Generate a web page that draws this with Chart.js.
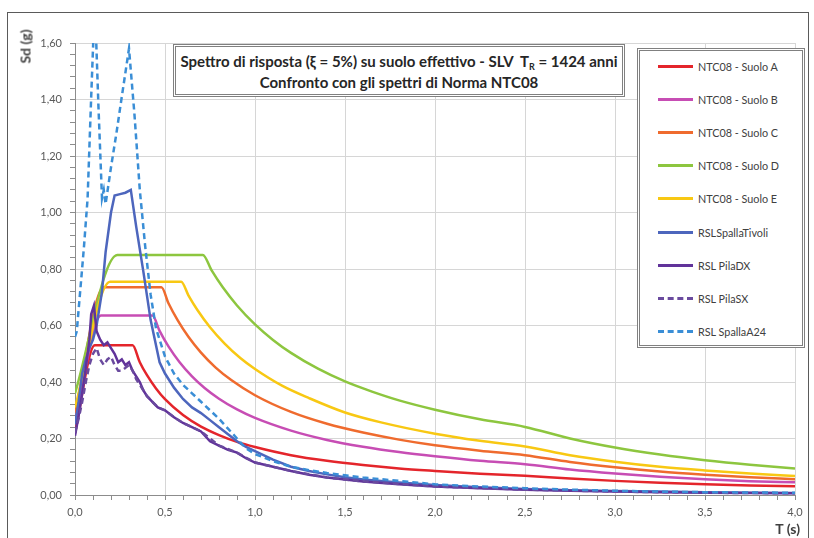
<!DOCTYPE html>
<html>
<head>
<meta charset="utf-8">
<script src="https://cdn.jsdelivr.net/npm/chart.js@4.4.1/dist/chart.umd.min.js"></script>
<style>
    body { margin: 0; width: 814px; height: 538px; overflow: hidden; background: #fff; position: relative; font-family: Lato, "Liberation Sans", sans-serif; }
    #frame { position: absolute; left: 7px; top: 12px; width: 802px; height: 540px; border: 1px solid #5a5a5a; box-sizing: border-box; }
    #c { position: absolute; left: 0; top: 0; }
    #ylab { position: absolute; left: 0px; top: 38px; width: 50px; text-align: center; transform: rotate(-90deg); font-weight: bold; font-size: 14px; color: #404040; }
    #xlab { position: absolute; right: 14px; top: 520px; font-weight: bold; font-size: 14px; color: #404040; }
    #titleBox { position: absolute; left: 173px; top: 44px; width: 452px; height: 53px; box-sizing: border-box; border: 3px double #808080; background: #fff; text-align: center; font-weight: bold; font-size: 15px; line-height: 21px; padding-top: 4px; color: #262626; }
    #titleBox sub { font-size: 9px; line-height: 0; vertical-align: -3px; }
    #legend { position: absolute; left: 637px; top: 48px; width: 168px; height: 300px; box-sizing: border-box; border: 3px double #808080; background: #fff; }
    .item { position: absolute; left: 18px; height: 14px; display: flex; align-items: center; font-size: 10.8px; color: #404040; }
    .swatch { width: 35px; height: 0; margin-right: 5px; }
</style>
</head>
<body>
<div id="frame"></div>
<canvas id="c" width="814" height="538"></canvas>
<div id="ylab">Sd (g)</div>
<div id="xlab">T (s)</div>
<div id="titleBox">Spettro di risposta (ξ = 5%) su suolo effettivo - SLV&nbsp; T<sub>R</sub> = 1424 anni<br>Confronto con gli spettri di Norma NTC08</div>
<div id="legend"></div>

<script>
// spettri di norma NTC08 (periodo T [s], Sd [g])
const tA = [0, 0.11, 0.32, 0.36, 0.40, 0.45, 0.50, 0.60, 0.70, 0.80, 0.90, 1.00, 1.20, 1.40, 1.60, 1.80, 2.00, 2.25, 2.50, 2.75, 3.00, 3.25, 3.50, 3.75, 4.00];
const sdA = [0.22, 0.53, 0.53, 0.47, 0.424, 0.377, 0.339, 0.283, 0.242, 0.212, 0.188, 0.170, 0.141, 0.121, 0.106, 0.094, 0.085, 0.075, 0.068, 0.058, 0.050, 0.043, 0.038, 0.034, 0.031];

const tB = [0, 0.145, 0.43, 0.47, 0.52, 0.58, 0.65, 0.72, 0.80, 0.90, 1.00, 1.20, 1.40, 1.60, 1.80, 2.00, 2.25, 2.50, 2.75, 3.00, 3.25, 3.50, 3.75, 4.00];
const sdB = [0.26, 0.635, 0.635, 0.581, 0.525, 0.471, 0.420, 0.379, 0.341, 0.303, 0.273, 0.228, 0.195, 0.171, 0.152, 0.137, 0.121, 0.109, 0.090, 0.076, 0.065, 0.056, 0.049, 0.045];

const tC = [0, 0.16, 0.48, 0.52, 0.57, 0.63, 0.70, 0.78, 0.87, 1.00, 1.20, 1.40, 1.60, 1.80, 2.00, 2.25, 2.50, 2.75, 3.00, 3.25, 3.50, 3.75, 4.00];
const sdC = [0.29, 0.735, 0.735, 0.678, 0.619, 0.560, 0.504, 0.452, 0.406, 0.353, 0.294, 0.252, 0.221, 0.196, 0.176, 0.157, 0.141, 0.117, 0.098, 0.083, 0.072, 0.063, 0.056];

const tD = [0, 0.235, 0.71, 0.76, 0.82, 0.90, 1.00, 1.10, 1.20, 1.35, 1.50, 1.65, 1.80, 2.00, 2.25, 2.50, 2.75, 3.00, 3.25, 3.50, 3.75, 4.00];
const sdD = [0.36, 0.85, 0.85, 0.794, 0.736, 0.671, 0.604, 0.549, 0.503, 0.447, 0.402, 0.366, 0.335, 0.302, 0.268, 0.241, 0.200, 0.168, 0.143, 0.123, 0.107, 0.094];

const tE = [0, 0.195, 0.59, 0.63, 0.68, 0.75, 0.83, 0.92, 1.00, 1.15, 1.30, 1.50, 1.70, 2.00, 2.25, 2.50, 2.75, 3.00, 3.25, 3.50, 3.75, 4.00];
const sdE = [0.31, 0.755, 0.755, 0.707, 0.655, 0.594, 0.537, 0.484, 0.446, 0.387, 0.343, 0.292, 0.257, 0.217, 0.192, 0.172, 0.141, 0.118, 0.100, 0.087, 0.076, 0.067];

// spettri RSL
const tTiv = [0, 0.02, 0.04, 0.06, 0.08, 0.10, 0.12, 0.15, 0.17, 0.20, 0.22, 0.25, 0.28, 0.31, 0.34, 0.38, 0.42, 0.44, 0.47, 0.50, 0.55, 0.60, 0.65, 0.70, 0.75, 0.80, 0.85, 0.90, 0.95, 1.00, 1.10, 1.20, 1.30, 1.40, 1.50, 1.60, 1.80, 2.00, 2.25, 2.50, 2.75, 3.00, 3.25, 3.50, 3.75, 4.00];
const sdTiv = [0.25, 0.33, 0.43, 0.48, 0.52, 0.55, 0.60, 0.72, 0.86, 1.00, 1.06, 1.065, 1.07, 1.08, 0.95, 0.79, 0.62, 0.56, 0.47, 0.43, 0.38, 0.34, 0.31, 0.29, 0.265, 0.24, 0.215, 0.19, 0.17, 0.155, 0.125, 0.10, 0.085, 0.073, 0.063, 0.055, 0.044, 0.035, 0.027, 0.021, 0.017, 0.014, 0.012, 0.010, 0.008, 0.007];

const tDX = [0, 0.02, 0.04, 0.06, 0.08, 0.09, 0.105, 0.12, 0.14, 0.16, 0.18, 0.20, 0.22, 0.24, 0.26, 0.28, 0.30, 0.32, 0.34, 0.36, 0.38, 0.40, 0.43, 0.46, 0.50, 0.55, 0.60, 0.65, 0.70, 0.75, 0.80, 0.85, 0.90, 0.95, 1.00, 1.10, 1.20, 1.30, 1.40, 1.50, 1.60, 1.80, 2.00, 2.25, 2.50, 2.75, 3.00, 3.25, 3.50, 3.75, 4.00];
const sdDX = [0.21, 0.28, 0.36, 0.45, 0.55, 0.64, 0.67, 0.58, 0.55, 0.53, 0.54, 0.52, 0.50, 0.47, 0.48, 0.46, 0.47, 0.44, 0.42, 0.40, 0.37, 0.35, 0.33, 0.31, 0.30, 0.275, 0.255, 0.24, 0.225, 0.19, 0.175, 0.16, 0.15, 0.13, 0.115, 0.10, 0.085, 0.072, 0.062, 0.055, 0.048, 0.038, 0.030, 0.024, 0.019, 0.015, 0.012, 0.010, 0.008, 0.007, 0.006];

const tSX = [0, 0.02, 0.04, 0.06, 0.08, 0.10, 0.12, 0.14, 0.16, 0.18, 0.20, 0.22, 0.24, 0.26, 0.28, 0.30, 0.32, 0.34, 0.36, 0.38, 0.40, 0.43, 0.46, 0.50, 0.55, 0.60, 0.70, 0.80, 0.90, 1.00, 1.20, 1.40, 1.60, 2.00, 2.50, 3.00, 3.50, 4.00];
const sdSX = [0.22, 0.27, 0.33, 0.40, 0.46, 0.50, 0.52, 0.48, 0.46, 0.48, 0.49, 0.46, 0.44, 0.44, 0.45, 0.46, 0.44, 0.41, 0.39, 0.37, 0.35, 0.33, 0.31, 0.30, 0.275, 0.255, 0.225, 0.175, 0.15, 0.115, 0.085, 0.062, 0.048, 0.030, 0.019, 0.012, 0.008, 0.006];

const tA24 = [0, 0.01, 0.03, 0.05, 0.07, 0.09, 0.11, 0.13, 0.15, 0.16, 0.17, 0.20, 0.23, 0.26, 0.30, 0.33, 0.36, 0.39, 0.42, 0.45, 0.50, 0.55, 0.60, 0.65, 0.70, 0.75, 0.80, 0.85, 0.90, 0.95, 1.00, 1.10, 1.20, 1.30, 1.40, 1.50, 1.60, 1.80, 2.00, 2.25, 2.50, 2.75, 3.00, 3.25, 3.50, 3.75, 4.00];
const sdA24 = [0.56, 0.58, 0.73, 0.88, 1.05, 1.41, 1.75, 1.38, 1.05, 1.08, 1.03, 1.16, 1.28, 1.41, 1.58, 1.35, 1.08, 0.88, 0.71, 0.59, 0.49, 0.43, 0.39, 0.36, 0.33, 0.30, 0.27, 0.235, 0.20, 0.165, 0.145, 0.12, 0.10, 0.088, 0.078, 0.07, 0.062, 0.05, 0.038, 0.030, 0.024, 0.019, 0.015, 0.012, 0.010, 0.009, 0.008];

// serie: etichetta, dati, colore, tratteggio
const series = [
    { label: 'NTC08 - Suolo A', t: tA, sd: sdA, color: '#e4252b', dash: [], smooth: true },
    { label: 'NTC08 - Suolo B', t: tB, sd: sdB, color: '#c74db4', dash: [], smooth: true },
    { label: 'NTC08 - Suolo C', t: tC, sd: sdC, color: '#ef6b2e', dash: [], smooth: true },
    { label: 'NTC08 - Suolo D', t: tD, sd: sdD, color: '#8dc63f', dash: [], smooth: true },
    { label: 'NTC08 - Suolo E', t: tE, sd: sdE, color: '#f8c813', dash: [], smooth: true },
    { label: 'RSLSpallaTivoli', t: tTiv, sd: sdTiv, color: '#4d66bd', dash: [], smooth: false },
    { label: 'RSL PilaDX', t: tDX, sd: sdDX, color: '#61339a', dash: [], smooth: false },
    { label: 'RSL PilaSX', t: tSX, sd: sdSX, color: '#6a4a9e', dash: [6, 4], smooth: false },
    { label: 'RSL SpallaA24', t: tA24, sd: sdA24, color: '#3a8ed6', dash: [6, 4], smooth: false }
];

const comma = (v, d) => v.toFixed(d).replace('.', ',');

const datasets = series.map((s, i) => ({
    label: s.label,
    data: s.t.map((t, k) => ({ x: t, y: s.sd[k] })),
    borderColor: s.color,
    borderWidth: 2.5,
    borderDash: s.dash,
    pointRadius: 0,
    fill: false,
    tension: 0,
    cubicInterpolationMode: s.smooth ? 'monotone' : 'default',
    order: series.length - i // le ultime serie sopra
}));

new Chart(document.getElementById('c'), {
    type: 'line',
    data: { datasets: datasets },
    options: {
        responsive: false,
        animation: false,
        layout: { padding: { top: 43, right: 19, bottom: 0, left: 0 } },
        plugins: { legend: { display: false }, tooltip: { enabled: false } },
        scales: {
            x: {
                type: 'linear',
                min: 0,
                max: 4,
                afterFit: s => { s.height = 43; },
                ticks: {
                    stepSize: 0.1,
                    autoSkip: false,
                    maxRotation: 0,
                    padding: 6,
                    color: '#595959',
                    font: { family: 'Lato', size: 11 },
                    callback: v => Math.round(v * 10) % 5 === 0 ? comma(v, 1) : ''
                },
                grid: {
                    color: ctx => Math.round(ctx.tick.value * 10) % 5 === 0 ? '#d6d6d6' : 'rgba(0,0,0,0)',
                    tickColor: '#8c8c8c',
                    tickLength: 5
                },
                border: { color: '#8c8c8c' }
            },
            y: {
                min: 0,
                max: 1.6,
                afterFit: s => { s.width = 75; },
                ticks: {
                    stepSize: 0.04,
                    autoSkip: false,
                    padding: 8,
                    color: '#595959',
                    font: { family: 'Lato', size: 11 },
                    callback: v => Math.round(v * 100) % 20 === 0 ? comma(v, 2) : ''
                },
                grid: {
                    color: ctx => Math.round(ctx.tick.value * 100) % 20 === 0 ? '#d6d6d6' : 'rgba(0,0,0,0)',
                    tickColor: '#8c8c8c',
                    tickLength: 5
                },
                border: { color: '#8c8c8c' }
            }
        }
    }
});

// legenda html dentro l'area del grafico
const legend = document.getElementById('legend');
series.forEach((s, i) => {
    const item = document.createElement('div');
    item.className = 'item';
    item.style.top = (8 + i * 33.2) + 'px';
    const sw = document.createElement('span');
    sw.className = 'swatch';
    sw.style.borderTop = '3px ' + (s.dash.length ? 'dashed ' : 'solid ') + s.color;
    const txt = document.createElement('span');
    txt.textContent = s.label;
    item.appendChild(sw);
    item.appendChild(txt);
    legend.appendChild(item);
});
</script>
</body>
</html>
